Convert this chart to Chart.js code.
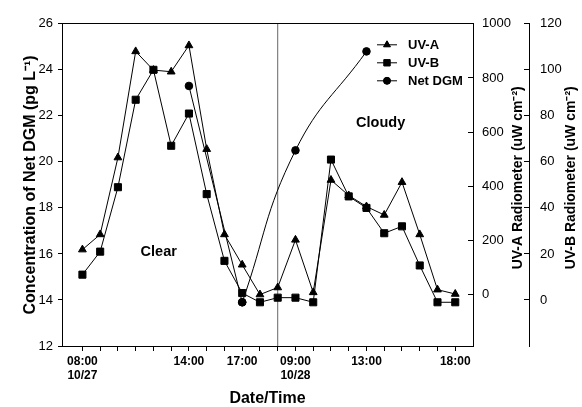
<!DOCTYPE html>
<html>
<head>
<meta charset="utf-8">
<script src="https://cdn.jsdelivr.net/npm/chart.js@4.4.0/dist/chart.umd.min.js"></script>
<style>
  html, body { margin: 0; padding: 0; background: #fff; }
</style>
</head>
<body>
<canvas id="chart" width="582" height="407"></canvas>
<script>
// hourly readings: 10/27 08:00-18:00 -> slots 0..10, 10/28 08:00-18:00 -> slots 11..21
const slots = [0, 1, 2, 3, 4, 5, 6, 7, 8, 9, 10, 11, 12, 13, 14, 15, 16, 17, 18, 19, 20, 21];
const uvA = [166, 222, 506, 898, 829, 823, 920, 537, 222, 110, 0, 26, 202, 8, 423, 366, 325, 294, 415, 222, 18, 2];
const uvB = [11, 21, 49, 87, 100, 67, 81, 46, 17, 3, -1, 1, 1, -1, 61, 45, 40, 29, 32, 15, -1, -1];

// Net DGM (pg/L)
const dgmSlots = [6, 9, 12, 16];
const dgmValues = [23.3, 13.9, 20.5, 24.8];

const dayBreak = 11;

const xTickSlots = [0, 6, 9, 12, 16, 21];
const xTickLabels = [['08:00', '10/27'], '14:00', '17:00', ['09:00', '10/28'], '13:00', '18:00'];
const dgmTicks = [12, 14, 16, 18, 20, 22, 24, 26];
const uvATicks = [0, 200, 400, 600, 800, 1000];
const uvBTicks = [0, 20, 40, 60, 80, 100, 120];

const FONT = "'Liberation Sans', Arial, Helvetica, sans-serif";
Chart.defaults.font.family = FONT;
Chart.defaults.color = '#000';

const pts = (xs, ys) => xs.map((x, i) => ({ x: x, y: ys[i] }));

// texts inside the plot + legend + right axis titles (read bottom-to-top)
const extras = {
    id: 'extras',
    afterDraw(chart) {
        const ctx = chart.ctx;
        const area = chart.chartArea;
        const sx = chart.scales.x, sy = chart.scales.y;
        ctx.save();
        ctx.fillStyle = '#000';
        ctx.strokeStyle = '#000';
        ctx.textBaseline = 'middle';

        ctx.font = 'bold 14.5px ' + FONT;
        ctx.textAlign = 'center';
        ctx.fillText('Clear', sx.getPixelForValue(4.3), sy.getPixelForValue(16.07));
        ctx.fillText('Cloudy', sx.getPixelForValue(16.8), sy.getPixelForValue(21.67));

        // legend
        const items = [
            { text: 'UV-A', style: 'triangle', r: 4 },
            { text: 'UV-B', style: 'rect', r: 4.5 },
            { text: 'Net DGM', style: 'circle', r: 3.5 }
        ];
        ctx.font = 'bold 13px ' + FONT;
        ctx.textAlign = 'left';
        items.forEach((it, i) => {
            const y = area.top + 21 + i * 18;
            const x0 = area.right - 96;
            ctx.lineWidth = 1;
            ctx.beginPath();
            ctx.moveTo(x0, y);
            ctx.lineTo(x0 + 20, y);
            ctx.stroke();
            Chart.helpers.drawPoint(ctx, { pointStyle: it.style, radius: it.r, rotation: 0, borderWidth: 1 }, x0 + 10, y);
            ctx.fill();
            ctx.fillText(it.text, area.right - 65, y + 1);
        });

        // right titles
        ctx.font = 'bold 14px ' + FONT;
        ctx.textAlign = 'center';
        const titles = [
            { s: chart.scales.yA, text: 'UV-A Radiometer (uW cm\u207B\u00B2)', off: 11 },
            { s: chart.scales.yB, text: 'UV-B Radiometer (uW cm\u207B\u00B2)', off: 8.5 }
        ];
        titles.forEach(t => {
            ctx.save();
            ctx.translate(t.s.right - t.off, area.top + 154);
            ctx.rotate(-Math.PI / 2);
            ctx.fillText(t.text, 0, 0);
            ctx.restore();
        });
        ctx.restore();
    }
};

new Chart(document.getElementById('chart'), {
    type: 'line',
    data: {
        datasets: [
            {
                label: 'UV-A',
                data: pts(slots, uvA),
                yAxisID: 'yA',
                borderColor: '#000',
                backgroundColor: '#000',
                borderWidth: 1,
                pointStyle: 'triangle',
                pointRadius: 4.5,
                tension: 0
            },
            {
                label: 'UV-B',
                data: pts(slots, uvB),
                yAxisID: 'yB',
                borderColor: '#000',
                backgroundColor: '#000',
                borderWidth: 1,
                pointStyle: 'rect',
                pointRadius: 5,
                tension: 0
            },
            {
                label: 'Net DGM',
                data: pts(dgmSlots.slice(0, 2), dgmValues.slice(0, 2)),
                yAxisID: 'y',
                borderColor: '#000',
                backgroundColor: '#000',
                borderWidth: 1,
                pointStyle: 'circle',
                pointRadius: 3.8,
                tension: 0
            },
            {
                label: 'Net DGM curve',
                data: pts(dgmSlots.slice(1), dgmValues.slice(1)),
                yAxisID: 'y',
                borderColor: '#000',
                backgroundColor: '#000',
                borderWidth: 1,
                pointStyle: 'circle',
                pointRadius: 3.8,
                tension: 0.45
            },
            {
                label: 'day break',
                data: [{ x: dayBreak, y: 12 }, { x: dayBreak, y: 26 }],
                yAxisID: 'y',
                borderColor: '#666',
                borderWidth: 1,
                pointRadius: 0
            }
        ]
    },
    options: {
        responsive: false,
        animation: false,
        layout: { padding: { left: 21.5, top: 16, right: 2, bottom: 0 } },
        plugins: {
            legend: { display: false },
            tooltip: { enabled: false }
        },
        scales: {
            x: {
                type: 'linear',
                position: 'bottom',
                min: -1.15,
                max: 22,
                afterBuildTicks: s => { s.ticks = slots.map(v => ({ value: v })); },
                afterFit: s => { s.height = 61; },
                ticks: {
                    autoSkip: false,
                    maxRotation: 0,
                    padding: 4,
                    font: { size: 12, weight: 'bold', lineHeight: 1.15 },
                    callback: v => {
                        const i = xTickSlots.indexOf(v);
                        return i >= 0 ? xTickLabels[i] : '';
                    }
                },
                grid: { drawOnChartArea: false, tickLength: 5, color: '#000' },
                border: { color: '#000' },
                title: {
                    display: true,
                    text: 'Date/Time',
                    font: { size: 16, weight: 'bold', lineHeight: 1 },
                    padding: { top: 8.4, bottom: 0 }
                }
            },
            x2: {
                type: 'linear',
                position: 'top',
                min: -1.15,
                max: 22,
                afterFit: s => { s.height = 0; },
                ticks: { display: false },
                grid: { display: false, drawTicks: false, tickLength: 0 },
                border: { display: true, color: '#000' }
            },
            y: {
                position: 'left',
                min: 12,
                max: 26,
                afterBuildTicks: s => { s.ticks = dgmTicks.map(v => ({ value: v })); },
                afterFit: s => { s.width = 40.5; },
                ticks: { padding: 5, font: { size: 13 }, callback: v => String(v) },
                grid: { drawOnChartArea: false, tickLength: 4, color: '#000' },
                border: { color: '#000' },
                title: {
                    display: true,
                    text: 'Concentration of Net DGM (pg L\u207B\u00B9)',
                    font: { size: 16, weight: 'bold', lineHeight: 1 },
                    padding: { top: 1, bottom: 0 }
                }
            },
            yA: {
                position: 'right',
                weight: 0,
                min: -190,
                max: 1000,
                afterBuildTicks: s => { s.ticks = uvATicks.map(v => ({ value: v })); },
                afterFit: s => { s.width = 56; },
                ticks: { padding: 14, font: { size: 13 }, callback: v => String(v) },
                grid: { drawOnChartArea: false, tickLength: -5, color: '#000' },
                border: { color: '#000' },
                title: {
                    display: true,
                    text: 'UV-A Radiometer (uW cm-2)',
                    color: 'rgba(0,0,0,0)',
                    font: { size: 14, weight: 'bold', lineHeight: 1 },
                    padding: { top: 4, bottom: 0 }
                }
            },
            yB: {
                position: 'right',
                weight: 1,
                min: -20,
                max: 120,
                afterBuildTicks: s => { s.ticks = uvBTicks.map(v => ({ value: v })); },
                afterFit: s => { s.width = 51; },
                ticks: { padding: 16, font: { size: 13 }, callback: v => String(v) },
                grid: { drawOnChartArea: false, tickLength: -5, color: '#000' },
                border: { color: '#000' },
                title: {
                    display: true,
                    text: 'UV-B Radiometer (uW cm-2)',
                    color: 'rgba(0,0,0,0)',
                    font: { size: 14, weight: 'bold', lineHeight: 1 },
                    padding: { top: 1.5, bottom: 2.8 }
                }
            }
        }
    },
    plugins: [extras]
});
</script>
</body>
</html>
